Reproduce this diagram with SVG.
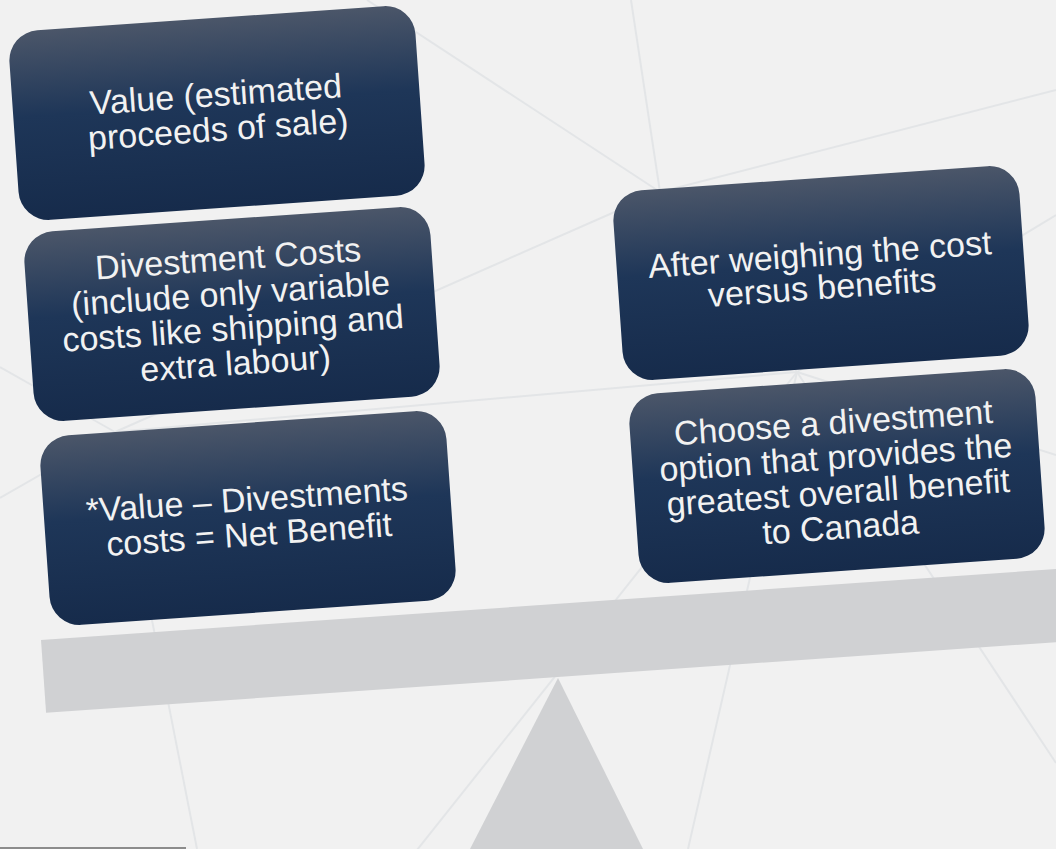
<svg xmlns="http://www.w3.org/2000/svg" width="1056" height="849" viewBox="0 0 1056 849">
<defs>
<linearGradient id="boxGrad" x1="0" y1="0" x2="0" y2="1">
<stop offset="0" stop-color="#4b5669"/>
<stop offset="0.45" stop-color="#1e3658"/>
<stop offset="1" stop-color="#162b4b"/>
</linearGradient>
<style>
.bg-line{stroke:#e3e5e7;stroke-width:2;fill:none}
.box{fill:url(#boxGrad)}
.lbl{font-family:"Liberation Sans",Arial,sans-serif;font-size:34px;fill:#f2f2f2;text-anchor:middle}
.scale{fill:#d0d1d3}
</style>
</defs>
<rect x="0" y="0" width="1056" height="849" fill="#f1f1f1"/>
<g id="connectors">
<line class="bg-line" x1="367" y1="0" x2="660" y2="192"/>
<line class="bg-line" x1="631" y1="0" x2="660" y2="192"/>
<line class="bg-line" x1="660" y1="192" x2="1056" y2="90"/>
<line class="bg-line" x1="660" y1="192" x2="115" y2="432"/>
<line class="bg-line" x1="660" y1="192" x2="797" y2="372"/>
<line class="bg-line" x1="115" y1="432" x2="0" y2="367"/>
<line class="bg-line" x1="115" y1="432" x2="0" y2="498"/>
<line class="bg-line" x1="115" y1="432" x2="197" y2="849"/>
<line class="bg-line" x1="115" y1="432" x2="797" y2="372"/>
<line class="bg-line" x1="797" y1="372" x2="417" y2="850"/>
<line class="bg-line" x1="797" y1="372" x2="688" y2="849"/>
<line class="bg-line" x1="797" y1="372" x2="1056" y2="763"/>
<line class="bg-line" x1="797" y1="372" x2="1056" y2="215"/>
<line class="bg-line" x1="797" y1="372" x2="1056" y2="455"/>
</g>
<g id="beam">
<rect class="scale" x="0" y="0" width="1100" height="73" transform="translate(41,640) rotate(-4)"/>
</g>
<g id="fulcrum">
<polygon class="scale" points="558,678 470,849 643,849"/>
</g>
<rect x="0" y="847" width="186" height="2" fill="#8c8c8c"/>
<g id="node-value" transform="translate(217,113) rotate(-4)">
<rect class="box" x="-203.5" y="-95" width="407" height="190" rx="30"/>
<text class="lbl"><tspan x="0" y="-7">Value (estimated</tspan><tspan x="0" y="28">proceeds of sale)</tspan></text>
</g>
<g id="node-costs" transform="translate(232,314) rotate(-4)">
<rect class="box" x="-203.5" y="-95" width="407" height="190" rx="30"/>
<text class="lbl"><tspan x="0" y="-44">Divestment Costs</tspan><tspan x="0" y="-9">(include only variable</tspan><tspan x="0" y="26">costs like shipping and</tspan><tspan x="0" y="61">extra labour)</tspan></text>
</g>
<g id="node-net" transform="translate(248,518) rotate(-4)">
<rect class="box" x="-203.5" y="-95" width="407" height="190" rx="30"/>
<text class="lbl"><tspan x="0" y="-7">*Value – Divestments</tspan><tspan x="0" y="28">costs = Net Benefit</tspan></text>
</g>
<g id="node-weigh" transform="translate(821,273) rotate(-4)">
<rect class="box" x="-203.5" y="-95" width="407" height="190" rx="30"/>
<text class="lbl"><tspan x="0" y="-7">After weighing the cost</tspan><tspan x="0" y="26">versus benefits</tspan></text>
</g>
<g id="node-choose" transform="translate(837,476) rotate(-4)">
<rect class="box" x="-203.5" y="-95" width="407" height="190" rx="30"/>
<text class="lbl"><tspan x="0" y="-42">Choose a divestment</tspan><tspan x="0" y="-7">option that provides the</tspan><tspan x="0" y="28">greatest overall benefit</tspan><tspan x="0" y="63">to Canada</tspan></text>
</g>
</svg>
